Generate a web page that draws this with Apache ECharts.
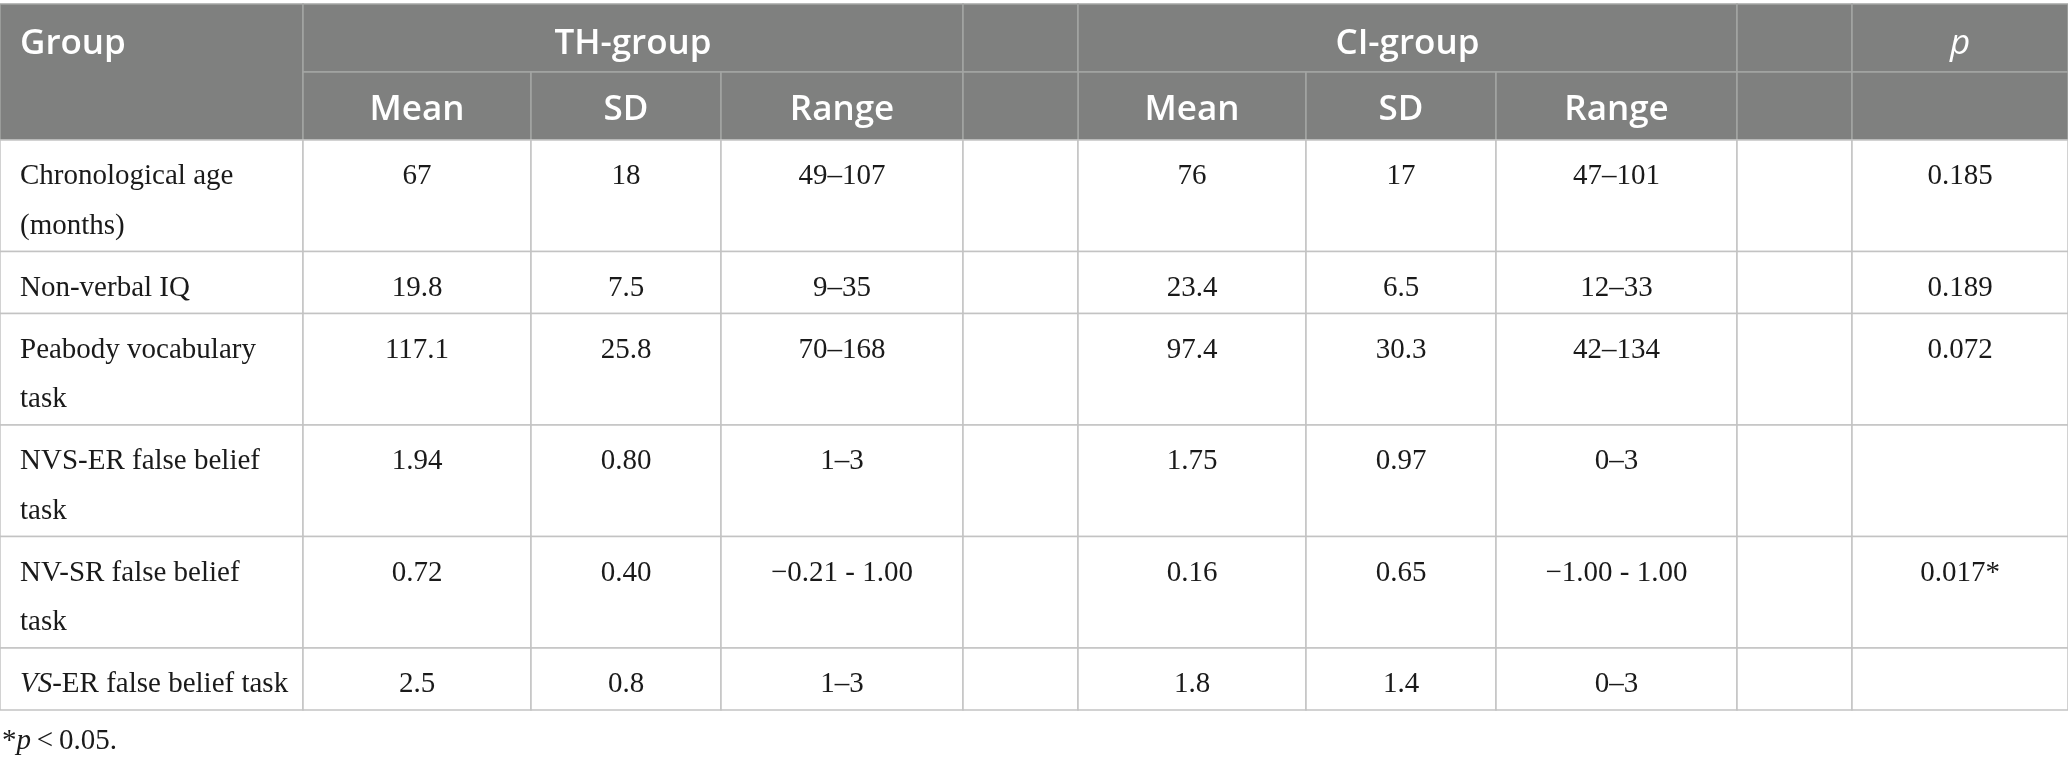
<!DOCTYPE html>
<html>
<head>
<meta charset="utf-8">
<script src="https://cdn.jsdelivr.net/npm/echarts@6/dist/echarts.min.js"></script>
<style>
  html, body { margin: 0; padding: 0; background: #fff; }
  #chart { width: 2068px; height: 764px; }
</style>
</head>
<body>
<div id="chart"></div>
<script>
// table content
const groupHeaders = ['TH-group', 'CI-group'];
const statHeaders = ['Mean', 'SD', 'Range'];
const measures = [
    'Chronological age\n(months)',
    'Non-verbal IQ',
    'Peabody vocabulary\ntask',
    'NVS-ER false belief\ntask',
    'NV-SR false belief\ntask',
    '{i|VS}-ER false belief task'
];
const thMean = ['67', '19.8', '117.1', '1.94', '0.72', '2.5'];
const thSD = ['18', '7.5', '25.8', '0.80', '0.40', '0.8'];
const thRange = ['49\u2013107', '9\u201335', '70\u2013168', '1\u20133', '\u22120.21 - 1.00', '1\u20133'];
const ciMean = ['76', '23.4', '97.4', '1.75', '0.16', '1.8'];
const ciSD = ['17', '6.5', '30.3', '0.97', '0.65', '1.4'];
const ciRange = ['47\u2013101', '12\u201333', '42\u2013134', '0\u20133', '\u22121.00 - 1.00', '0\u20133'];
const pValues = ['0.185', '0.189', '0.072', '', '0.017*', ''];
const footnote = '*{i|p}\u2009<\u20090.05.';

// layout
const W = 2068, H = 764;
const colEdges = [0, 303, 531, 721, 963, 1078, 1306, 1496, 1737, 1852, 2068];
const headTop = 4, headMid = 72, headBottom = 140;
const lineStep = 49.5, oneLineRow = 62;
const HEAD_BG = '#7f807f', HEAD_LINE = '#a4a5a4', BODY_LINE = '#c3c3c3';
const SERIF = 'Liberation Serif', SANS = 'Open Sans';

const cells = [];
function addCell(c0, c1, y0, y1, text, kind, align) {
    cells.push({x0: colEdges[c0], x1: colEdges[c1], y0: y0, y1: y1, text: text, kind: kind, align: align});
}

// header rows
addCell(0, 1, headTop, headBottom, 'Group', 'head', 'left');
addCell(1, 4, headTop, headMid, groupHeaders[0], 'head', 'center');
addCell(4, 5, headTop, headMid, '', 'head', 'center');
addCell(5, 8, headTop, headMid, groupHeaders[1], 'head', 'center');
addCell(8, 9, headTop, headMid, '', 'head', 'center');
addCell(9, 10, headTop, headMid, '{i|p}', 'head', 'center');
[1, 5].forEach(start => {
    statHeaders.forEach((s, k) => addCell(start + k, start + k + 1, headMid, headBottom, s, 'head2', 'center'));
});
addCell(4, 5, headMid, headBottom, '', 'head2', 'center');
addCell(8, 9, headMid, headBottom, '', 'head2', 'center');
addCell(9, 10, headMid, headBottom, '', 'head2', 'center');

// body rows
let rowTop = headBottom;
measures.forEach((m, i) => {
    const h = oneLineRow + (m.split('\n').length - 1) * lineStep;
    const vals = [m, thMean[i], thSD[i], thRange[i], '', ciMean[i], ciSD[i], ciRange[i], '', pValues[i]];
    vals.forEach((v, c) => addCell(c, c + 1, rowTop, rowTop + h, v, 'body', c === 0 ? 'left' : 'center'));
    rowTop += h;
});

function renderCell(params, api) {
    const c = cells[params.dataIndex];
    const p0 = api.coord([c.x0, c.y0]);
    const p1 = api.coord([c.x1, c.y1]);
    const head = c.kind !== 'body';
    const children = [{
        type: 'rect',
        shape: {x: p0[0], y: p0[1], width: p1[0] - p0[0], height: p1[1] - p0[1]},
        style: {fill: head ? HEAD_BG : '#fff', stroke: head ? HEAD_LINE : BODY_LINE, lineWidth: 1.5}
    }];
    if (c.text) {
        const tx = c.align === 'left' ? p0[0] + 20 : (p0[0] + p1[0]) / 2;
        let style;
        if (head) {
            const cy = c.kind === 'head' ? p0[1] + 40 : p0[1] + 38;
            style = {
                text: c.text, x: tx, y: cy, align: c.align, verticalAlign: 'middle',
                fontFamily: SANS, fontWeight: 600, fontSize: 35, fill: '#fff',
                rich: {i: {fontFamily: SANS, fontWeight: 400, fontStyle: 'italic', fontSize: 35, fill: '#fff'}}
            };
        } else {
            style = {
                text: c.text, x: tx, y: p0[1] + 12, align: c.align, verticalAlign: 'top',
                fontFamily: SERIF, fontSize: 29, lineHeight: lineStep, fill: '#1a1a1a',
                rich: {i: {fontFamily: SERIF, fontStyle: 'italic', fontSize: 29, lineHeight: lineStep, fill: '#1a1a1a'}}
            };
        }
        children.push({type: 'text', style: style});
    }
    return {type: 'group', children: children};
}

const chart = echarts.init(document.getElementById('chart'), null, {renderer: 'canvas'});
chart.setOption({
    animation: false,
    backgroundColor: '#fff',
    grid: {left: 0, right: 0, top: 0, bottom: 0},
    xAxis: {type: 'value', min: 0, max: W, show: false},
    yAxis: {type: 'value', min: 0, max: H, inverse: true, show: false},
    series: [{
        type: 'custom',
        renderItem: renderCell,
        encode: {x: [0, 2], y: [1, 3]},
        data: cells.map(c => [c.x0, c.y0, c.x1, c.y1]),
        silent: true
    }],
    graphic: [{
        type: 'text',
        left: 2,
        top: 727,
        style: {
            text: footnote, fontFamily: SERIF, fontSize: 29, fill: '#1a1a1a',
            rich: {i: {fontFamily: SERIF, fontStyle: 'italic', fontSize: 29, fill: '#1a1a1a'}}
        }
    }]
});
</script>
</body>
</html>
